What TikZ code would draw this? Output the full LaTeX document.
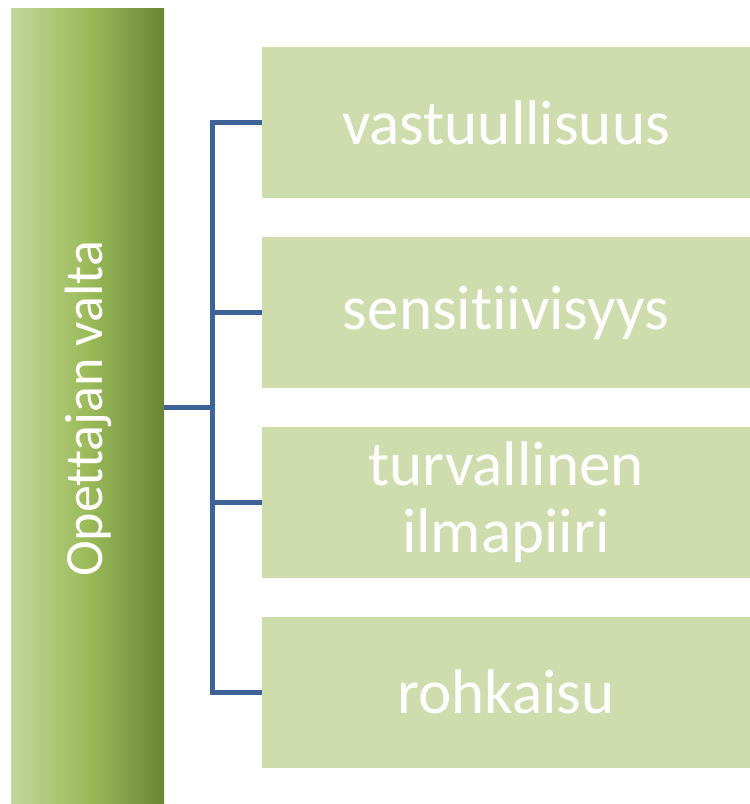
\documentclass[tikz,border=0pt]{standalone}
\usepackage{fontspec}
\setmainfont{Carlito}[Ligatures={NoCommon}]
\definecolor{barL}{HTML}{C3D69B}
\definecolor{barM}{HTML}{9BBB59}
\definecolor{barR}{HTML}{6A8535}
\definecolor{boxfill}{HTML}{CFDDAE}
\definecolor{connblue}{HTML}{3E6497}
\tikzset{
  barbox/.style={rectangle, inner sep=0pt, minimum width=153pt, minimum height=796pt,
    shading=axis, left color=barL, right color=barR, middle color=barM},
  bartext/.style={rotate=90, text=white, font=\fontsize{54}{60}\selectfont, inner sep=0pt},
  itembox/.style={rectangle, fill=boxfill, inner sep=0pt, minimum width=488pt, minimum height=151pt,
    text=white, font=\fontsize{63}{67}\selectfont, align=center},
  conn/.style={draw=connblue, line width=5pt}
}
\begin{document}
\begin{tikzpicture}[x=1pt,y=-1pt]
\useasboundingbox (0,0) rectangle (750,804);
\node[barbox] (bar) at (87.5,406) {};
\node[bartext] (bartitle) at (88,409) {Opettajan valta};
\node[itembox] (b1) at (506,122.5) {vastuullisuus};
\node[itembox] (b2) at (506,312.5) {sensitiivisyys};
\node[itembox] (b3) at (506,502) {turvallinen\\ilmapiiri};
\node[itembox] (b4) at (506,692) {rohkaisu};
\coordinate (hub) at (212.5,407);
\draw[conn] (b1.west) -| (hub |- b4.west) -- (b4.west);
\draw[conn] (hub |- b2.west) -- (b2.west);
\draw[conn] (hub |- b3.west) -- (b3.west);
\draw[conn] (bar.east |- hub) -- (hub);
\end{tikzpicture}
\end{document}
